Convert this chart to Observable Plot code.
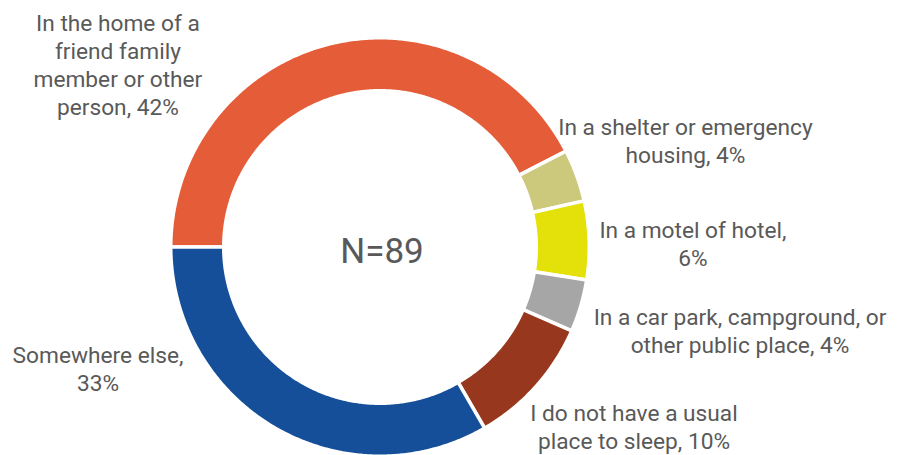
<!DOCTYPE html>
<html>
<head>
<meta charset="utf-8">
<script src="https://cdn.jsdelivr.net/npm/d3@7"></script>
<script src="https://cdn.jsdelivr.net/npm/@observablehq/plot@0.6"></script>
<style>
  html, body { margin: 0; padding: 0; background: #ffffff; }
  #chart svg { display: block; }
</style>
</head>
<body>
<div id="chart"></div>
<script>
// ---- data ----
const categories = [
  "In the home of a friend family member or other person",
  "In a shelter or emergency housing",
  "In a motel of hotel",
  "In a car park, campground, or other public place",
  "I do not have a usual place to sleep",
  "Somewhere else"
];
const percents = [42, 4, 6, 4, 10, 33];
const labelTexts = [
  "In the home of a\nfriend family\nmember or other\nperson, 42%",
  "In a shelter or emergency\nhousing, 4%",
  "In a motel of hotel,\n6%",
  "In a car park, campground, or\nother public place, 4%",
  "I do not have a usual\nplace to sleep, 10%",
  "Somewhere else,\n33%"
];
const colors = ["#E55C38", "#CCC97C", "#E3E00A", "#A6A6A6", "#97371E", "#154F99"];
const centerLabel = "N=89";

// ---- layout (not data) ----
const W = 903, H = 455;
const cx = 379.5, cy = 246.5, Rpx = 207.5;      // ring centre and outer radius in pixels
const innerRatio = 158 / Rpx;                    // inner radius in ring units
const gapPx = 3.5;                               // white separators
const labelFont = 22.7;
// label block centres in ring units (outer radius = 1)
const labelAnchors = [
  [-1.263, 0.882],
  [1.472, 0.514],
  [1.508, 0.017],
  [1.735, -0.402],
  [1.224, -0.865],
  [-1.359, -0.585]
];

// ---- geometry from data ----
const pie = d3.pie().sort(null).value(d => d.value)
  .startAngle(-Math.PI / 2).endAngle(3 * Math.PI / 2);
const arcs = pie(categories.map((c, i) => ({category: c, value: percents[i]})));

const rOut = 1 + (gapPx / 2) / Rpx;
const rIn = innerRatio - (gapPx / 2) / Rpx;
const ringPoints = [];
for (const a of arcs) {
  const n = Math.max(4, Math.ceil((a.endAngle - a.startAngle) / (Math.PI / 360)));
  const pts = [];
  for (let k = 0; k <= n; k++) {
    const t = a.startAngle + (a.endAngle - a.startAngle) * k / n;
    pts.push({category: a.data.category, x: rOut * Math.sin(t), y: rOut * Math.cos(t)});
  }
  for (let k = n; k >= 0; k--) {
    const t = a.startAngle + (a.endAngle - a.startAngle) * k / n;
    pts.push({category: a.data.category, x: rIn * Math.sin(t), y: rIn * Math.cos(t)});
  }
  ringPoints.push(...pts);
}

const labelData = categories.map((c, i) => ({
  category: c, text: labelTexts[i], x: labelAnchors[i][0], y: labelAnchors[i][1]
}));

const chart = Plot.plot({
  width: W,
  height: H,
  margin: 0,
  x: {axis: null, domain: [-cx / Rpx, (W - cx) / Rpx], range: [0, W]},
  y: {axis: null, domain: [-(H - cy) / Rpx, cy / Rpx], range: [H, 0]},
  color: {type: "ordinal", domain: categories, range: colors},
  style: {background: "#ffffff", fontFamily: "Roboto, sans-serif"},
  marks: [
    Plot.line(ringPoints, {
      x: "x", y: "y", z: "category", fill: "category",
      stroke: "#ffffff", strokeWidth: gapPx, curve: "linear-closed"
    }),
    Plot.text(labelData, {
      x: "x", y: "y", text: "text",
      fontSize: labelFont, lineHeight: 28 / labelFont, fill: "#595959", fontFamily: "Roboto"
    }),
    Plot.text([centerLabel], {
      x: () => 0, y: () => 0, text: d => d, dx: 2, dy: 5,
      fontSize: 35, fill: "#595959", fontFamily: "Roboto"
    })
  ]
});
document.getElementById("chart").appendChild(chart);
</script>
</body>
</html>
